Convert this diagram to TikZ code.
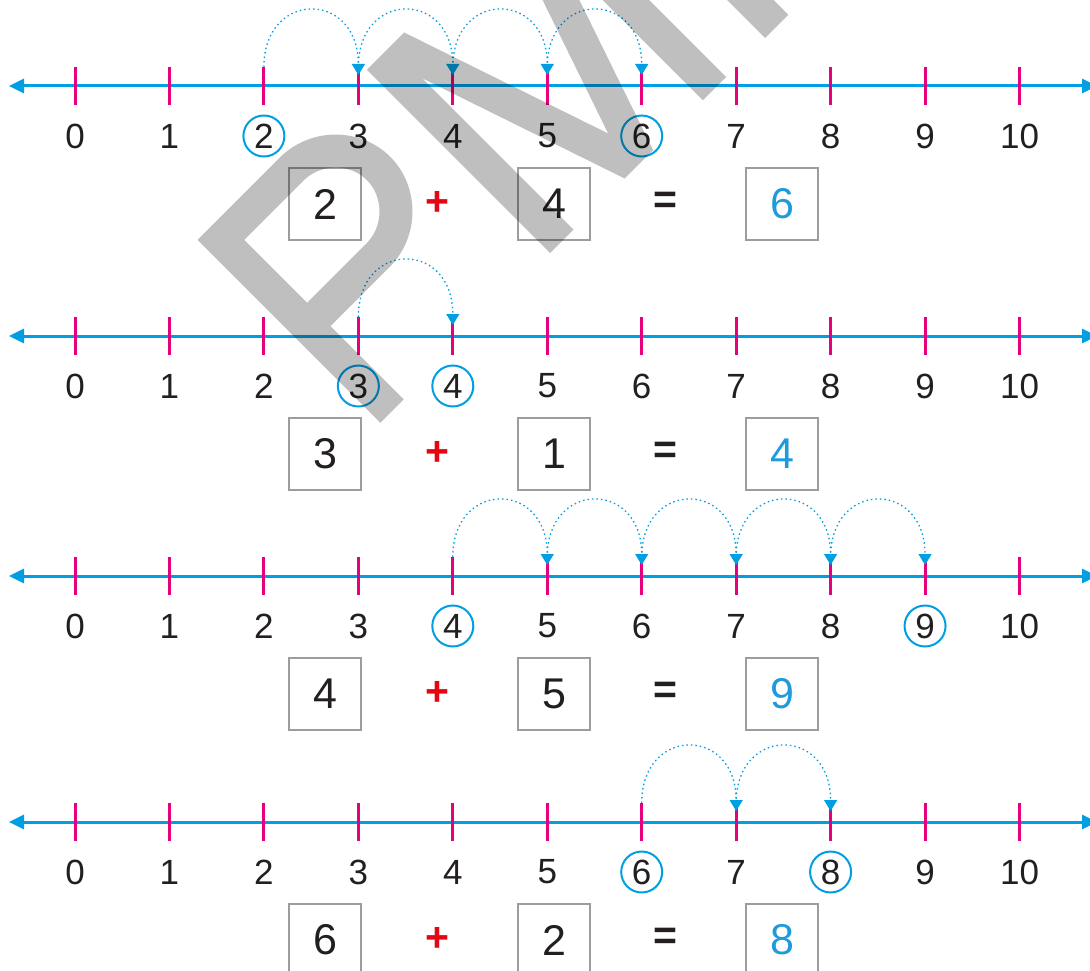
\documentclass[tikz,border=0pt]{standalone}
\usepackage{fontspec}
\setmainfont{Liberation Sans}
\usetikzlibrary{arrows.meta}
\definecolor{nlblue}{HTML}{009FE3}
\definecolor{tickmag}{HTML}{E6007E}
\definecolor{txt}{HTML}{231F20}
\definecolor{boxgray}{HTML}{9D9D9C}
\definecolor{plusred}{HTML}{E30613}
\definecolor{ansblue}{HTML}{1D9BDC}
\begin{document}
\begin{tikzpicture}[x=1pt,y=-1pt,
  numline/.style={nlblue, line width=3pt, {Triangle[width=14pt,length=15pt]}-{Triangle[width=14pt,length=15pt]}},
  tickmark/.style={tickmag, line width=3pt},
  lab/.style={text=txt, font=\fontsize{35}{35}\selectfont, inner sep=0pt},
  circ/.style={lab, circle, draw=nlblue, line width=2pt, minimum size=41pt},
  hop/.style={nlblue, line width=1.3pt, dash pattern=on 1.5pt off 3pt, -{Triangle[width=13pt,length=11pt]}},
  ansbox/.style={draw=boxgray, line width=2.5pt, minimum width=72pt, minimum height=72pt, inner sep=0pt, font=\fontsize{43}{43}\selectfont, text=txt},
  op/.style={font=\fontsize{41}{41}\selectfont\bfseries, inner sep=0pt},
]
\useasboundingbox[fill=white] (0,0) rectangle (1090,971);
\foreach \L/\yy/\st/\en/\va/\vb/\vc in {1/86/2/6/2/4/6, 2/336/3/4/3/1/4, 3/576/4/9/4/5/9, 4/822/6/8/6/2/8}{
  \coordinate (L\L-left) at (9,\yy);
  \coordinate (L\L-right) at (1097,\yy);
  \draw[numline] (L\L-left) -- (L\L-right);
  \foreach \n in {0,...,10}{
    \pgfmathsetmacro\xx{75+94.45*\n}
    \coordinate (t\L-\n) at (\xx,\yy-19);
    \coordinate (b\L-\n) at (\xx,\yy+19);
    \draw[tickmark] (t\L-\n) -- (b\L-\n);
    \ifnum\n=\st\relax
      \node[circ] (n\L-\n) at (\xx,\yy+50) {\n};
    \else\ifnum\n=\en\relax
      \node[circ] (n\L-\n) at (\xx,\yy+50) {\n};
    \else
      \node[lab] (n\L-\n) at (\xx,\yy+50) {\n};
    \fi\fi
  }
  \pgfmathtruncatemacro\lastk{\en-1}
  \foreach \k in {\st,...,\lastk}{
    \pgfmathtruncatemacro\nxt{\k+1}
    \draw[hop] (t\L-\k) .. controls +(0,-77) and +(0,-85) .. ([yshift=-8pt]t\L-\nxt);
  }
  \node[ansbox] (eqA\L) at (325,\yy+118) {\va};
  \node[op, text=plusred] (plus\L) at (437,\yy+117) {+};
  \node[ansbox] (eqB\L) at (554,\yy+118) {\vb};
  \node[op, text=txt] (eq\L) at (665,\yy+117) {=};
  \node[ansbox, text=ansblue] (eqC\L) at (782,\yy+118) {\vc};
}
% watermark
\begin{scope}[shift={(392,411)}, x={(0.7071pt,0.7071pt)}, y={(-0.7071pt,0.7071pt)}]
  \clip (-60,0) -- (620,0) -- (620,259) -- (-60,259) -- cycle;
  \draw[black, opacity=0.25, line width=33pt, line join=miter]
    (0,-40) -- (0,242) -- (100,242) .. controls (134,242) and (162,214) .. (162,181)
      .. controls (162,148) and (134,120) .. (100,120) -- (0,120)
    (240,-40) -- (240,300)
    (245,300) -- (349,-8) -- (454,300)
    (456,-40) -- (456,300)
    (544,-40) -- (544,300);
\end{scope}
\end{tikzpicture}
\end{document}
